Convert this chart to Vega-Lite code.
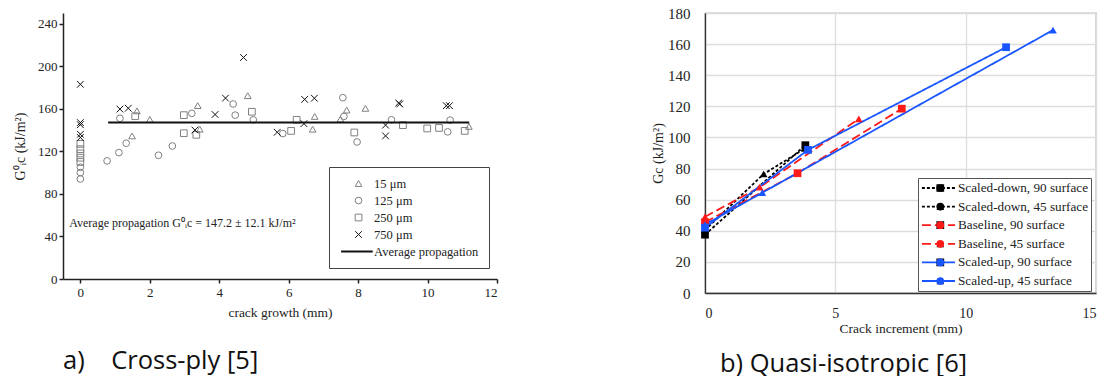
{
  "$schema": "https://vega.github.io/schema/vega-lite/v6.json",
  "background": "white",
  "padding": {"left": 13, "top": 5, "right": 8, "bottom": 0},
  "spacing": 152,
  "resolve": {
    "scale": {"color": "independent", "fill": "independent", "shape": "independent", "strokeWidth": "independent", "strokeDash": "independent"},
    "legend": {"color": "independent", "fill": "independent", "shape": "independent", "strokeWidth": "independent", "strokeDash": "independent"}
  },
  "config": {
    "font": "Liberation Serif",
    "view": {"stroke": null},
    "axis": {"labelFont": "Liberation Serif", "titleFont": "Liberation Serif", "titleFontWeight": "normal", "domainColor": "#222", "tickColor": "#222", "labelColor": "#222", "titleColor": "#222", "labelOverlap": false},
    "legend": {"labelFont": "Liberation Serif", "labelColor": "#222"},
    "title": {"font": "Open Sans", "fontWeight": "normal", "color": "#111"}
  },
  "hconcat": [
    {
      "width": 434,
      "height": 266,
      "title": {"text": "a)\u00a0\u00a0\u00a0\u00a0Cross-ply [5]", "orient": "bottom", "anchor": "start", "frame": "group", "fontSize": 25.5, "offset": 30},
      "layer": [
        {
          "data": {"values": [
            {"growth": 1.49, "G": 134.5, "t": "15 μm"},
            {"growth": 1.63, "G": 158, "t": "15 μm"},
            {"growth": 2.0, "G": 150, "t": "15 μm"},
            {"growth": 3.38, "G": 163, "t": "15 μm"},
            {"growth": 3.44, "G": 140.8, "t": "15 μm"},
            {"growth": 4.82, "G": 172.3, "t": "15 μm"},
            {"growth": 6.75, "G": 152.8, "t": "15 μm"},
            {"growth": 6.69, "G": 140.8, "t": "15 μm"},
            {"growth": 7.49, "G": 150.3, "t": "15 μm"},
            {"growth": 7.67, "G": 158.8, "t": "15 μm"},
            {"growth": 8.21, "G": 160.4, "t": "15 μm"},
            {"growth": 11.19, "G": 143.4, "t": "15 μm"},
            {"growth": 0, "G": 94, "t": "125 μm"},
            {"growth": 0, "G": 100, "t": "125 μm"},
            {"growth": 0, "G": 105, "t": "125 μm"},
            {"growth": 0.77, "G": 111, "t": "125 μm"},
            {"growth": 1.11, "G": 118.8, "t": "125 μm"},
            {"growth": 1.14, "G": 151, "t": "125 μm"},
            {"growth": 1.32, "G": 127.6, "t": "125 μm"},
            {"growth": 2.25, "G": 116.3, "t": "125 μm"},
            {"growth": 2.65, "G": 125, "t": "125 μm"},
            {"growth": 3.21, "G": 155.7, "t": "125 μm"},
            {"growth": 4.4, "G": 164.5, "t": "125 μm"},
            {"growth": 4.46, "G": 154, "t": "125 μm"},
            {"growth": 4.98, "G": 149.6, "t": "125 μm"},
            {"growth": 5.83, "G": 136.7, "t": "125 μm"},
            {"growth": 7.56, "G": 170.4, "t": "125 μm"},
            {"growth": 7.59, "G": 152.8, "t": "125 μm"},
            {"growth": 7.97, "G": 128.8, "t": "125 μm"},
            {"growth": 8.96, "G": 149.6, "t": "125 μm"},
            {"growth": 10.65, "G": 149.3, "t": "125 μm"},
            {"growth": 10.58, "G": 138.3, "t": "125 μm"},
            {"growth": 0, "G": 110, "t": "250 μm"},
            {"growth": 0, "G": 114, "t": "250 μm"},
            {"growth": 0, "G": 118, "t": "250 μm"},
            {"growth": 0, "G": 122, "t": "250 μm"},
            {"growth": 0, "G": 127, "t": "250 μm"},
            {"growth": 1.58, "G": 153, "t": "250 μm"},
            {"growth": 2.98, "G": 154, "t": "250 μm"},
            {"growth": 2.98, "G": 137, "t": "250 μm"},
            {"growth": 3.34, "G": 135.5, "t": "250 μm"},
            {"growth": 4.94, "G": 157.2, "t": "250 μm"},
            {"growth": 6.07, "G": 139.2, "t": "250 μm"},
            {"growth": 6.23, "G": 149.6, "t": "250 μm"},
            {"growth": 7.89, "G": 137.7, "t": "250 μm"},
            {"growth": 9.29, "G": 144.6, "t": "250 μm"},
            {"growth": 9.99, "G": 141.5, "t": "250 μm"},
            {"growth": 10.33, "G": 142, "t": "250 μm"},
            {"growth": 11.07, "G": 139.2, "t": "250 μm"},
            {"growth": 0, "G": 183, "t": "750 μm"},
            {"growth": 0, "G": 147, "t": "750 μm"},
            {"growth": 0, "G": 145, "t": "750 μm"},
            {"growth": 0, "G": 136, "t": "750 μm"},
            {"growth": 0, "G": 133, "t": "750 μm"},
            {"growth": 1.14, "G": 159.7, "t": "750 μm"},
            {"growth": 1.38, "G": 160.5, "t": "750 μm"},
            {"growth": 3.3, "G": 140, "t": "750 μm"},
            {"growth": 3.88, "G": 154.6, "t": "750 μm"},
            {"growth": 4.18, "G": 170, "t": "750 μm"},
            {"growth": 4.7, "G": 208.2, "t": "750 μm"},
            {"growth": 5.67, "G": 137.9, "t": "750 μm"},
            {"growth": 6.44, "G": 146, "t": "750 μm"},
            {"growth": 6.46, "G": 168.8, "t": "750 μm"},
            {"growth": 6.74, "G": 169.9, "t": "750 μm"},
            {"growth": 8.79, "G": 144.6, "t": "750 μm"},
            {"growth": 8.79, "G": 134.5, "t": "750 μm"},
            {"growth": 9.17, "G": 165.4, "t": "750 μm"},
            {"growth": 9.2, "G": 164.5, "t": "750 μm"},
            {"growth": 10.54, "G": 162.9, "t": "750 μm"},
            {"growth": 10.63, "G": 162.9, "t": "750 μm"}
          ]},
          "mark": {"type": "point", "filled": false, "opacity": 1, "size": 45},
          "encoding": {
            "x": {"field": "growth", "type": "quantitative", "scale": {"domain": [-0.5, 12], "nice": false, "zero": false},
              "axis": {"title": "crack growth (mm)", "values": [0,1,2,3,4,5,6,7,8,9,10,11,12], "labelExpr": "datum.value % 2 === 0 ? datum.label : ''", "grid": false, "tickSize": 4, "labelFontSize": 13, "titleFontSize": 13.5, "labelPadding": 3, "titlePadding": 6, "domainWidth": 1.5, "tickWidth": 1.5}},
            "y": {"field": "G", "type": "quantitative", "scale": {"domain": [0, 250], "nice": false},
              "axis": {"title": "G⁰ᵢc (kJ/m²)", "values": [0,10,20,30,40,50,60,70,80,90,100,110,120,130,140,150,160,170,180,190,200,210,220,230,240], "labelExpr": "datum.value % 20 === 0 ? datum.label : ''", "grid": false, "tickSize": 4, "labelFontSize": 13, "titleFontSize": 14, "labelPadding": 2, "titlePadding": 10, "domainWidth": 1.5, "tickWidth": 1.5}},
            "color": {"field": "t", "type": "nominal",
              "scale": {"domain": ["15 μm", "125 μm", "250 μm", "750 μm", "Average propagation"], "range": ["#808080", "#808080", "#808080", "#111111", "#111111"]},
              "legend": {"title": null, "orient": "none", "legendX": 266, "legendY": 154, "strokeColor": "#444", "fillColor": "white", "padding": 10, "labelFontSize": 12.5, "rowPadding": 4, "clipHeight": 13, "symbolSize": 45, "symbolOffset": 13.3, "labelOffset": 9.3}},
            "shape": {"field": "t", "type": "nominal",
              "scale": {"domain": ["15 μm", "125 μm", "250 μm", "750 μm", "Average propagation"], "range": ["triangle-up", "circle", "square", "M-1,-1L1,1M-1,1L1,-1", "stroke"]}},
            "strokeWidth": {"field": "t", "type": "nominal",
              "scale": {"domain": ["15 μm", "125 μm", "250 μm", "750 μm", "Average propagation"], "range": [1, 1, 1, 2, 2]}}
          }
        },
        {
          "data": {"values": [{"growth": 0.8, "growth_end": 11.2, "G": 147.2, "t": "Average propagation"}]},
          "mark": {"type": "rule", "color": "#111111", "strokeWidth": 2},
          "encoding": {
            "x": {"field": "growth", "type": "quantitative"},
            "x2": {"field": "growth_end"},
            "y": {"field": "G", "type": "quantitative"},
            "strokeDash": {"field": "t", "type": "nominal",
              "scale": {"domain": ["Average propagation"], "range": [[1, 0]]},
              "legend": {"title": null, "orient": "none", "legendX": 276.9, "legendY": 232, "padding": 0, "labelFontSize": 12.5, "rowPadding": 4, "clipHeight": 13, "symbolType": "stroke", "symbolSize": 1000, "symbolStrokeWidth": 2, "symbolStrokeColor": "#111111", "labelExpr": "'\u00a0'", "strokeColor": null, "fillColor": null, "zindex": 2}}
          }
        },
        {
          "data": {"values": [{"growth": -0.32, "G": 53, "label": "Average propagation G⁰ᵢc = 147.2 ± 12.1 kJ/m²"}]},
          "mark": {"type": "text", "align": "left", "baseline": "middle", "font": "Liberation Serif", "fontSize": 12, "color": "#222"},
          "encoding": {
            "x": {"field": "growth", "type": "quantitative"},
            "y": {"field": "G", "type": "quantitative"},
            "text": {"field": "label"}
          }
        }
      ]
    },
    {
      "width": 391,
      "height": 280,
      "view": {"stroke": "#777777", "strokeWidth": 1.2},
      "title": {"text": "b) Quasi-isotropic [6]", "orient": "bottom", "anchor": "start", "frame": "group", "dx": 15, "fontSize": 25.5, "offset": 17},
      "data": {"values": [
        {"series": "Scaled-down, 90 surface", "inc": 0, "Gc": 37.5},
        {"series": "Scaled-down, 90 surface", "inc": 3.85, "Gc": 95},
        {"series": "Scaled-down, 45 surface", "inc": 0, "Gc": 40.5},
        {"series": "Scaled-down, 45 surface", "inc": 2.25, "Gc": 76.5},
        {"series": "Scaled-down, 45 surface", "inc": 3.85, "Gc": 93},
        {"series": "Baseline, 90 surface", "inc": 0, "Gc": 45.5},
        {"series": "Baseline, 90 surface", "inc": 3.55, "Gc": 77},
        {"series": "Baseline, 90 surface", "inc": 7.55, "Gc": 118.5},
        {"series": "Baseline, 45 surface", "inc": 0, "Gc": 49},
        {"series": "Baseline, 45 surface", "inc": 2.1, "Gc": 68},
        {"series": "Baseline, 45 surface", "inc": 5.9, "Gc": 112},
        {"series": "Scaled-up, 90 surface", "inc": 0, "Gc": 42},
        {"series": "Scaled-up, 90 surface", "inc": 3.95, "Gc": 92},
        {"series": "Scaled-up, 90 surface", "inc": 11.55, "Gc": 158},
        {"series": "Scaled-up, 45 surface", "inc": 0, "Gc": 44},
        {"series": "Scaled-up, 45 surface", "inc": 2.2, "Gc": 64.5},
        {"series": "Scaled-up, 45 surface", "inc": 13.35, "Gc": 169}
      ]},
      "layer": [
        {
          "mark": {"type": "line", "strokeWidth": 1.8},
          "encoding": {
            "x": {"field": "inc", "type": "quantitative", "scale": {"domain": [0, 15], "nice": false},
              "axis": {"title": "Crack increment (mm)", "values": [0, 5, 10, 15], "ticks": false, "labelPadding": 13, "grid": true, "gridColor": "#dddddd", "gridWidth": 1.3, "labelFontSize": 14, "titleFontSize": 13.5, "titlePadding": 1, "domainColor": "#333", "domainWidth": 1.3}},
            "y": {"field": "Gc", "type": "quantitative", "scale": {"domain": [0, 180], "nice": false},
              "axis": {"title": "Gc (kJ/m²)", "values": [0,20,40,60,80,100,120,140,160,180], "tickCount": 10, "labelOverlap": false, "ticks": false, "labelPadding": 15, "grid": true, "gridColor": "#dddddd", "gridWidth": 1.3, "labelFontSize": 15, "titleFontSize": 14, "titlePadding": 2, "domainColor": "#333", "domainWidth": 1.3}},
            "color": {"field": "series", "type": "nominal",
              "scale": {"domain": ["Scaled-down, 90 surface", "Scaled-down, 45 surface", "Baseline, 90 surface", "Baseline, 45 surface", "Scaled-up, 90 surface", "Scaled-up, 45 surface"], "range": ["#000000", "#000000", "#ff1a1a", "#ff1a1a", "#1a56ff", "#1a56ff"]},
              "legend": {"title": null, "orient": "none", "legendX": 213, "legendY": 165, "strokeColor": "#555", "fillColor": "white", "padding": 3, "labelFontSize": 13.2, "rowPadding": 4.6, "clipHeight": 14, "symbolType": "stroke", "symbolSize": 1100, "labelOffset": 2, "symbolStrokeWidth": 1.8}},
            "strokeDash": {"field": "series", "type": "nominal",
              "scale": {"domain": ["Scaled-down, 90 surface", "Scaled-down, 45 surface", "Baseline, 90 surface", "Baseline, 45 surface", "Scaled-up, 90 surface", "Scaled-up, 45 surface"], "range": [[3, 2], [3, 2], [9, 4], [9, 4], [1, 0], [1, 0]]}}
          }
        },
        {
          "mark": {"type": "point", "filled": true, "opacity": 1, "size": 60},
          "encoding": {
            "x": {"field": "inc", "type": "quantitative"},
            "y": {"field": "Gc", "type": "quantitative",
              "axis": {"title": "Gc (kJ/m²)", "values": [0,20,40,60,80,100,120,140,160,180], "tickCount": 10, "labelOverlap": false, "ticks": false, "labelPadding": 15, "grid": true, "gridColor": "#dddddd", "gridWidth": 1.3, "labelFontSize": 15, "titleFontSize": 14, "titlePadding": 2, "domainColor": "#333", "domainWidth": 1.3}},
            "fill": {"field": "series", "type": "nominal",
              "sort": ["Scaled-down, 90 surface", "Scaled-down, 45 surface", "Baseline, 90 surface", "Baseline, 45 surface", "Scaled-up, 90 surface", "Scaled-up, 45 surface"],
              "scale": {"range": ["#000000", "#000000", "#ff1a1a", "#ff1a1a", "#1a56ff", "#1a56ff"]},
              "legend": {"title": null, "orient": "none", "legendX": 225.7, "legendY": 165, "padding": 3, "labelFontSize": 13.2, "rowPadding": 4.6, "clipHeight": 14, "symbolSize": 60, "labelOffset": 2, "labelExpr": "'\u00a0'", "strokeColor": null, "fillColor": null, "zindex": 2}},
            "shape": {"field": "series", "type": "nominal",
              "sort": ["Scaled-down, 90 surface", "Scaled-down, 45 surface", "Baseline, 90 surface", "Baseline, 45 surface", "Scaled-up, 90 surface", "Scaled-up, 45 surface"],
              "scale": {"range": ["square", "triangle-up", "square", "triangle-up", "square", "triangle-up"]},
              "legend": {"title": null, "orient": "none", "legendX": 225.7, "legendY": 165, "padding": 3, "labelFontSize": 13.2, "rowPadding": 4.6, "clipHeight": 14, "symbolSize": 60, "labelOffset": 2, "labelExpr": "'\u00a0'", "strokeColor": null, "fillColor": null, "zindex": 2}}
          }
        }
      ]
    }
  ]
}
